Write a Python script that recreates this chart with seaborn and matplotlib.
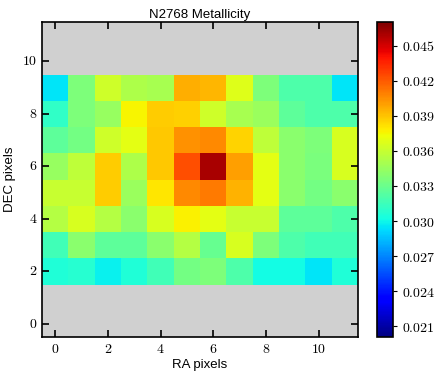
import numpy as np
import pandas as pd
import matplotlib
matplotlib.use("Agg")
import matplotlib.pyplot as plt
import seaborn as sns

# metallicity per RA pixel (0..11), one list per DEC row; rows 0,1,10,11 have no data
ra_pixels = list(range(12))
dec_pixels = list(range(12))
row_2 = [0.0306, 0.0308, 0.0298, 0.0306, 0.0316, 0.0333, 0.0336, 0.0320, 0.0301, 0.0301, 0.0295, 0.0306]
row_3 = [0.0316, 0.0340, 0.0325, 0.0325, 0.0340, 0.0354, 0.0329, 0.0365, 0.0336, 0.0320, 0.0316, 0.0316]
row_4 = [0.0354, 0.0365, 0.0354, 0.0340, 0.0365, 0.0377, 0.0370, 0.0360, 0.0360, 0.0325, 0.0325, 0.0320]
row_5 = [0.0360, 0.0360, 0.0387, 0.0346, 0.0380, 0.0406, 0.0411, 0.0395, 0.0370, 0.0340, 0.0333, 0.0340]
row_6 = [0.0344, 0.0357, 0.0387, 0.0352, 0.0389, 0.0423, 0.0460, 0.0400, 0.0370, 0.0340, 0.0335, 0.0365]
row_7 = [0.0325, 0.0333, 0.0362, 0.0370, 0.0389, 0.0404, 0.0406, 0.0385, 0.0357, 0.0340, 0.0336, 0.0365]
row_8 = [0.0311, 0.0336, 0.0344, 0.0376, 0.0388, 0.0386, 0.0362, 0.0350, 0.0346, 0.0325, 0.0320, 0.0320]
row_9 = [0.0295, 0.0336, 0.0362, 0.0352, 0.0350, 0.0396, 0.0394, 0.0368, 0.0336, 0.0320, 0.0320, 0.0295]
empty = [np.nan] * 12
cbar_ticks = [0.021, 0.024, 0.027, 0.030, 0.033, 0.036, 0.039, 0.042, 0.045]

grid = pd.DataFrame([empty, empty, row_2, row_3, row_4, row_5, row_6, row_7, row_8, row_9, empty, empty],
                    index=dec_pixels, columns=ra_pixels)

plt.rcParams['mathtext.fontset'] = 'cm'
plt.rcParams['font.family'] = ['Liberation Sans', 'DejaVu Sans']

fig = plt.figure(figsize=(4.36, 3.74), dpi=100)
ax = fig.add_axes([0.0963, 0.0989, 0.725, 0.842])
cax = fig.add_axes([0.8647, 0.0989, 0.0367, 0.842])

sns.heatmap(grid, ax=ax, cbar_ax=cax, cmap='jet', vmin=0.0201, vmax=0.047,
            cbar_kws={'ticks': cbar_ticks})
ax.invert_yaxis()
ax.set_facecolor('#d0d0d0')
ax.set_aspect('auto')

tick_pos = [i + 0.5 for i in range(0, 12, 2)]
ax.set_xticks(tick_pos)
ax.set_xticklabels([f'${i}$' for i in range(0, 12, 2)], rotation=0)
ax.set_yticks(tick_pos)
ax.set_yticklabels([f'${i}$' for i in range(0, 12, 2)], rotation=0)
ax.tick_params(direction='in', top=True, right=True, length=5, width=1.2,
               labelsize=10, colors='black')
for s in ax.spines.values():
    s.set_visible(True)
    s.set_linewidth(1.2)
    s.set_color('black')

ax.set_xlabel('RA pixels', fontsize=9.5, labelpad=2)
ax.set_ylabel('DEC pixels', fontsize=9.5, labelpad=4)
ax.set_title('N2768 Metallicity', fontsize=9.5, pad=3)

cax.set_yticklabels([f'${t:.3f}$' for t in cbar_ticks])
cax.tick_params(labelsize=10, length=3, width=0.8)
cbar = ax.collections[0].colorbar
cbar.outline.set_visible(True)
cbar.outline.set_edgecolor('black')
cbar.outline.set_linewidth(1.2)

fig.savefig('out.png', dpi=100)
